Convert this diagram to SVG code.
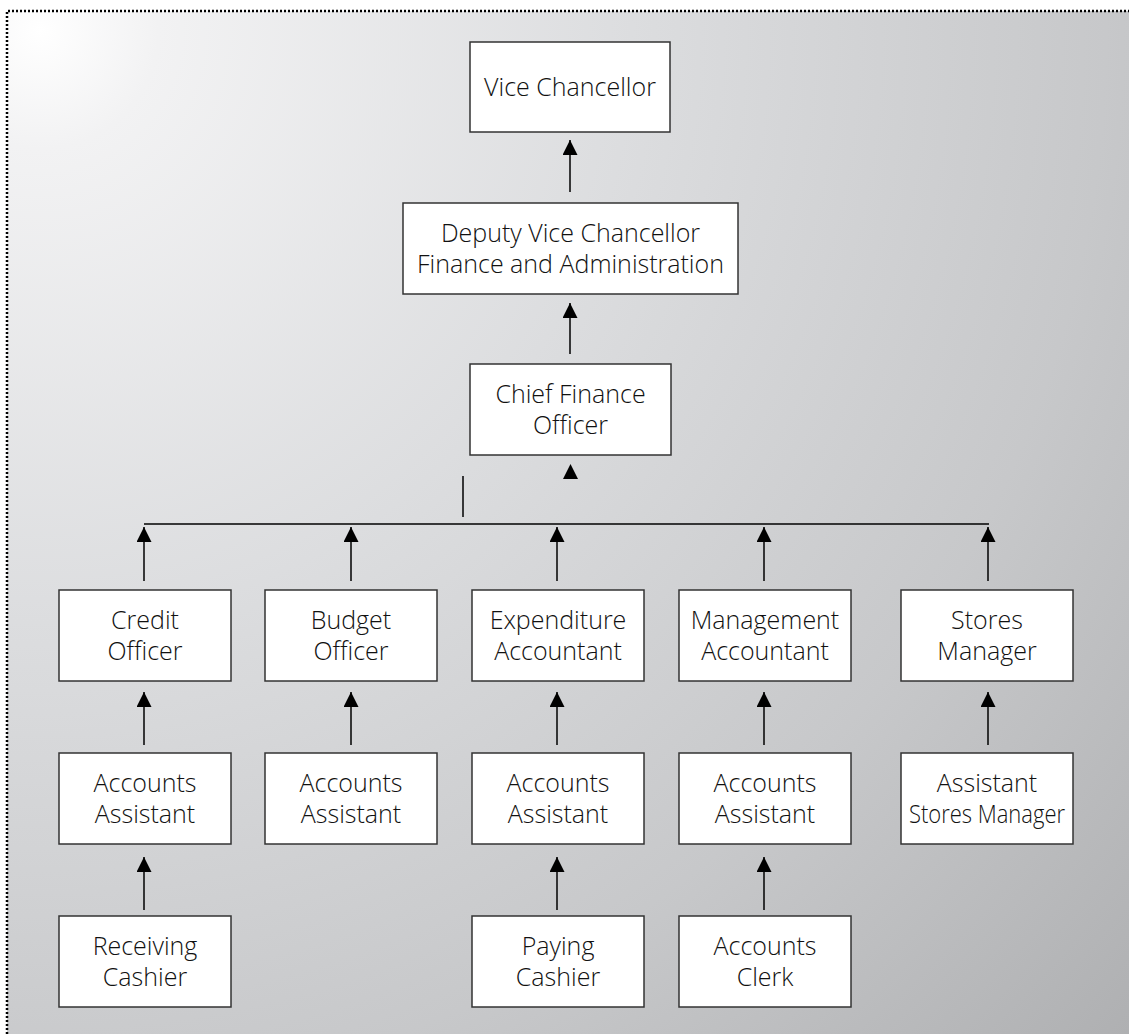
<svg xmlns="http://www.w3.org/2000/svg" width="1129" height="1034" viewBox="0 0 1129 1034">
<defs>
<radialGradient id="bg" gradientUnits="userSpaceOnUse" cx="40" cy="30" r="1480">
<stop offset="0" stop-color="#ffffff"/>
<stop offset="0.08" stop-color="#f2f2f3"/>
<stop offset="0.4" stop-color="#dcdddf"/>
<stop offset="0.72" stop-color="#c7c8ca"/>
<stop offset="1" stop-color="#afb0b2"/>
</radialGradient>
<marker id="ah" markerUnits="userSpaceOnUse" markerWidth="15" markerHeight="15" refX="15" refY="7.5" orient="auto" viewBox="0 0 15 15">
<path d="M0,0 L15,7.5 L0,15 Z" fill="#000"/>
</marker>
<style>
.box{fill:#fff;stroke:#333;stroke-width:1.5}
.lbl{font-family:"Open Sans","Liberation Sans",sans-serif;font-weight:300;font-size:25px;fill:#111;text-anchor:middle}
.con{stroke:#000;stroke-width:1.5;fill:none}
.arr{marker-end:url(#ah)}
.border{stroke:#000;stroke-width:2.5;stroke-dasharray:2 2;fill:none}
</style>
</defs>
<rect x="7" y="11" width="1122" height="1023" fill="url(#bg)"/>
<path class="border" d="M7,1034 L7,11 L1129,11"/>

<g id="connectors">
<line class="con arr" x1="570" y1="192" x2="570" y2="140"/>
<line class="con arr" x1="570" y1="354" x2="570" y2="303"/>
<path d="M563,479 L570.5,464 L578,479 Z" fill="#000"/>
<line class="con" x1="463" y1="476" x2="463" y2="517"/>
<line class="con" x1="144" y1="524" x2="989" y2="524"/>
<line class="con arr" x1="144" y1="581" x2="144" y2="527"/>
<line class="con arr" x1="351" y1="581" x2="351" y2="527"/>
<line class="con arr" x1="557" y1="581" x2="557" y2="527"/>
<line class="con arr" x1="764" y1="581" x2="764" y2="527"/>
<line class="con arr" x1="988" y1="581" x2="988" y2="527"/>
<line class="con arr" x1="144" y1="745" x2="144" y2="692"/>
<line class="con arr" x1="351" y1="745" x2="351" y2="692"/>
<line class="con arr" x1="557" y1="745" x2="557" y2="692"/>
<line class="con arr" x1="764" y1="745" x2="764" y2="692"/>
<line class="con arr" x1="988" y1="745" x2="988" y2="692"/>
<line class="con arr" x1="144" y1="910" x2="144" y2="857"/>
<line class="con arr" x1="557" y1="910" x2="557" y2="857"/>
<line class="con arr" x1="764" y1="910" x2="764" y2="857"/>
</g>

<g id="vc"><rect class="box" x="470" y="42" width="200" height="90"/><text class="lbl" x="570" y="96">Vice Chancellor</text></g>
<g id="dvc"><rect class="box" x="403" y="203" width="335" height="91"/><text class="lbl" x="570.5" y="242">Deputy Vice Chancellor</text><text class="lbl" x="570.5" y="273">Finance and Administration</text></g>
<g id="cfo"><rect class="box" x="470" y="364" width="201" height="91"/><text class="lbl" x="570.5" y="403">Chief Finance</text><text class="lbl" x="570.5" y="434">Officer</text></g>

<g id="credit"><rect class="box" x="59" y="590" width="172" height="91"/><text class="lbl" x="145" y="629">Credit</text><text class="lbl" x="145" y="660">Officer</text></g>
<g id="budget"><rect class="box" x="265" y="590" width="172" height="91"/><text class="lbl" x="351" y="629">Budget</text><text class="lbl" x="351" y="660">Officer</text></g>
<g id="expend"><rect class="box" x="472" y="590" width="172" height="91"/><text class="lbl" x="558" y="629">Expenditure</text><text class="lbl" x="558" y="660">Accountant</text></g>
<g id="mgmt"><rect class="box" x="679" y="590" width="172" height="91"/><text class="lbl" x="765" y="629">Management</text><text class="lbl" x="765" y="660">Accountant</text></g>
<g id="stores"><rect class="box" x="901" y="590" width="172" height="91"/><text class="lbl" x="987" y="629">Stores</text><text class="lbl" x="987" y="660">Manager</text></g>

<g id="aa1"><rect class="box" x="59" y="753" width="172" height="91"/><text class="lbl" x="145" y="792">Accounts</text><text class="lbl" x="145" y="823">Assistant</text></g>
<g id="aa2"><rect class="box" x="265" y="753" width="172" height="91"/><text class="lbl" x="351" y="792">Accounts</text><text class="lbl" x="351" y="823">Assistant</text></g>
<g id="aa3"><rect class="box" x="472" y="753" width="172" height="91"/><text class="lbl" x="558" y="792">Accounts</text><text class="lbl" x="558" y="823">Assistant</text></g>
<g id="aa4"><rect class="box" x="679" y="753" width="172" height="91"/><text class="lbl" x="765" y="792">Accounts</text><text class="lbl" x="765" y="823">Assistant</text></g>
<g id="asm"><rect class="box" x="901" y="753" width="172" height="91"/><text class="lbl" x="987" y="792">Assistant</text><text class="lbl" x="987" y="823" textLength="156" lengthAdjust="spacingAndGlyphs">Stores Manager</text></g>

<g id="rcash"><rect class="box" x="59" y="916" width="172" height="91"/><text class="lbl" x="145" y="955">Receiving</text><text class="lbl" x="145" y="986">Cashier</text></g>
<g id="pcash"><rect class="box" x="472" y="916" width="172" height="91"/><text class="lbl" x="558" y="955">Paying</text><text class="lbl" x="558" y="986">Cashier</text></g>
<g id="clerk"><rect class="box" x="679" y="916" width="172" height="91"/><text class="lbl" x="765" y="955">Accounts</text><text class="lbl" x="765" y="986">Clerk</text></g>
</svg>
